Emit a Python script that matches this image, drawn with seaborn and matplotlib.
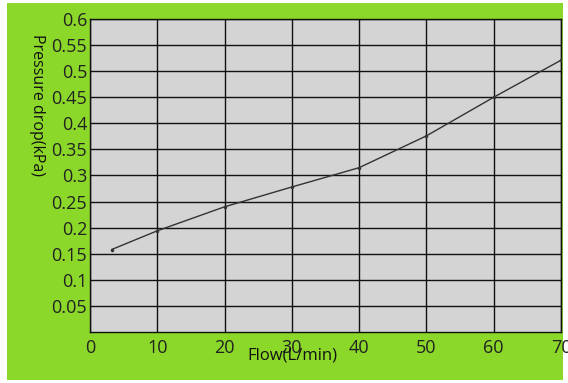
import matplotlib
matplotlib.use("Agg")
import matplotlib.pyplot as plt
import seaborn as sns
import pandas as pd
from matplotlib.patches import Rectangle

flow = [3.2, 10, 20, 30, 40, 50, 60, 70]
pressure = [0.158, 0.194, 0.240, 0.278, 0.315, 0.376, 0.450, 0.521]
x_ticks = [0, 10, 20, 30, 40, 50, 60, 70]
y_ticks = [0.05, 0.1, 0.15, 0.2, 0.25, 0.3, 0.35, 0.4, 0.45, 0.5, 0.55, 0.6]
y_tick_labels = ["0.05", "0.1", "0.15", "0.2", "0.25", "0.3", "0.35", "0.4", "0.45", "0.5", "0.55", "0.6"]

sns.set_style("white")
plt.rcParams['font.family'] = ['Open Sans', 'DejaVu Sans']

W, H = 568, 383
fig = plt.figure(figsize=(W / 100, H / 100), dpi=100)
fig.patch.set_facecolor("white")
green = "#8cd82a"
fig.patches.append(Rectangle((7 / W, 3 / H), 556 / W, 377 / H, transform=fig.transFigure,
                             facecolor=green, edgecolor="none", zorder=-5))

ax = fig.add_axes([90 / W, (H - 332) / H, (561 - 90) / W, (332 - 19) / H])
ax.set_facecolor("#d4d4d4")

df = pd.DataFrame({"flow": flow, "pressure": pressure})
sns.lineplot(data=df, x="flow", y="pressure", ax=ax, color="#333333", linewidth=1.0,
             marker="o", markersize=2.5, markeredgewidth=0, zorder=3)

ax.set_xlim(0, 70)
ax.set_ylim(0, 0.6)
ax.set_xticks(x_ticks)
ax.set_xticklabels([str(v) for v in x_ticks])
ax.set_yticks(y_ticks)
ax.set_yticklabels(y_tick_labels)
ax.grid(True, color="#111111", linewidth=1.0)
ax.set_axisbelow(True)
for s in ax.spines.values():
    s.set_color("#111111")
    s.set_linewidth(1.0)
ax.tick_params(axis="both", length=0, labelsize=13, colors="#222222")
ax.tick_params(axis="y", pad=2)
ax.tick_params(axis="x", pad=5)
ax.set_xlabel("")
ax.set_ylabel("")

fig.text(292 / W, 1 - 355 / H, "Flow(L/min)", ha="center", va="center", fontsize=12, color="#111111")
fig.text(37 / W, 1 - 105 / H, "Pressure drop(kPa)", ha="center", va="center", rotation=-90,
         fontsize=11.5, color="#111111")

fig.savefig("out.png", dpi=100)
